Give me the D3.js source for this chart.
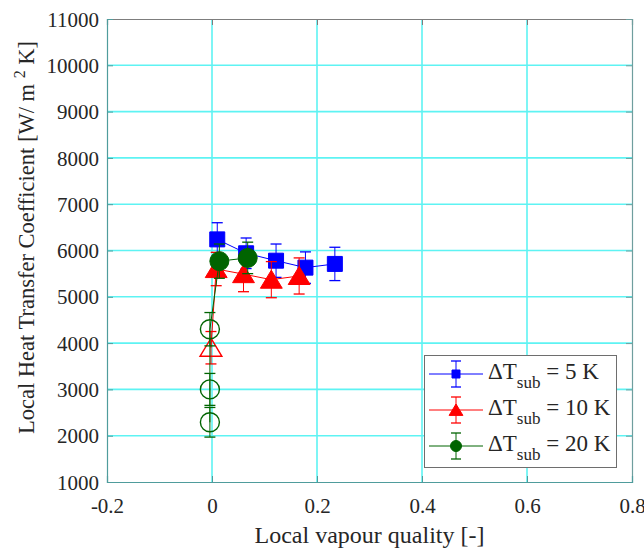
<!DOCTYPE html>
<html>
<head>
<meta charset="utf-8">
<script src="https://cdn.jsdelivr.net/npm/d3@7"></script>
<style>
  html, body { margin: 0; padding: 0; background: #fff; }
  svg { display: block; }
  svg text { font-family: "Liberation Serif", "Times New Roman", serif; }
</style>
</head>
<body>
<svg id="chart" width="644" height="549"></svg>
<script>
// Vapour quality and heat transfer coefficient for each subcooling level
const quality5 = [0.010, 0.065, 0.122, 0.178, 0.234];
const htc5 = [6240, 5940, 5780, 5630, 5710];
const err5 = [360, 330, 360, 340, 360];
const open5 = [false, false, false, false, false];

const quality10 = [-0.002, 0.008, 0.060, 0.113, 0.166];
const htc10 = [3900, 5600, 5490, 5370, 5450];
const err10 = [350, 360, 380, 390, 390];
const open10 = [true, false, false, false, false];

const quality20 = [-0.004, -0.004, -0.004, 0.014, 0.068];
const htc20 = [2290, 3000, 4300, 5770, 5840];
const err20 = [320, 345, 360, 370, 340];
const open20 = [true, true, true, false, false];

const xTicks = [-0.2, 0, 0.2, 0.4, 0.6, 0.8];
const yTicks = [1000, 2000, 3000, 4000, 5000, 6000, 7000, 8000, 9000, 10000, 11000];

const seriesNames = ["5 K", "10 K", "20 K"];
const seriesColors = ["#0000ff", "#ff0000", "#006400"];
const seriesShapes = ["square", "triangle", "circle"];

const series = [
  { x: quality5, y: htc5, e: err5, open: open5 },
  { x: quality10, y: htc10, e: err10, open: open10 },
  { x: quality20, y: htc20, e: err20, open: open20 }
].map((s, i) => ({
  name: seriesNames[i], color: seriesColors[i], shape: seriesShapes[i],
  points: s.x.map((xv, j) => ({ x: xv, y: s.y[j], e: s.e[j], open: s.open[j] }))
}));

const svg = d3.select("#chart");
const L = 107, R = 632, T = 19, B = 482;
const serif = "Liberation Serif";

const x = d3.scaleLinear().domain([-0.2, 0.8]).range([L, R]);
const y = d3.scaleLinear().domain([1000, 11000]).range([B, T]);

const gridColor = "#5ef3f3";
const axisColor = "#7d7d7d";
const textColor = "#262626";

// grid
const grid = svg.append("g");
grid.selectAll("line.gx").data(xTicks.slice(1, -1)).join("line")
  .attr("x1", d => x(d)).attr("x2", d => x(d)).attr("y1", T).attr("y2", B)
  .attr("stroke", gridColor).attr("stroke-width", 1.6);
grid.selectAll("line.gy").data(yTicks.slice(1, -1)).join("line")
  .attr("x1", L).attr("x2", R).attr("y1", d => y(d)).attr("y2", d => y(d))
  .attr("stroke", gridColor).attr("stroke-width", 1.6);

// axes with inward ticks on all four sides
const tickLen = 6;
const fmtX = d => d === 0 ? "0" : String(d);
const xAxisB = d3.axisBottom(x).tickValues(xTicks).tickSize(-tickLen).tickPadding(0).tickFormat(fmtX);
const xAxisT = d3.axisTop(x).tickValues(xTicks).tickSize(-tickLen).tickFormat("");
const yAxisL = d3.axisLeft(y).tickValues(yTicks).tickSize(-tickLen).tickPadding(8).tickFormat(d3.format("d"));
const yAxisR = d3.axisRight(y).tickValues(yTicks).tickSize(-tickLen).tickFormat("");

function styleAxis(g, color) {
  g.attr("font-family", serif).attr("font-size", 21);
  g.select(".domain").attr("stroke", color).attr("stroke-width", 1.2);
  g.selectAll(".tick line").attr("stroke", color).attr("stroke-width", 1);
  g.selectAll(".tick text").attr("fill", textColor);
}
const gt = svg.append("g").attr("transform", `translate(0,${T})`).call(xAxisT);
styleAxis(gt, axisColor);
const gr = svg.append("g").attr("transform", `translate(${R},0)`).call(yAxisR);
styleAxis(gr, "#6f9e9e");
const gb = svg.append("g").attr("transform", `translate(0,${B})`).call(xAxisB);
styleAxis(gb, "#4f9c9c");
const gl = svg.append("g").attr("transform", `translate(${L},0)`).call(yAxisL);
styleAxis(gl, "#4f9c9c");
gl.selectAll(".tick text").attr("dy", "0.34em");
gb.selectAll(".tick text").attr("y", 31).attr("dy", 0);

// axis titles
svg.append("text")
  .attr("x", (L + R) / 2).attr("y", 543)
  .attr("text-anchor", "middle").attr("fill", textColor)
  .attr("font-family", serif).attr("font-size", 24)
  .text("Local vapour quality [-]");

const yt = svg.append("text")
  .attr("transform", "translate(34,237.5) rotate(-90)")
  .attr("text-anchor", "middle").attr("fill", textColor)
  .attr("font-family", serif).attr("font-size", 22.5);
yt.append("tspan").text("Local Heat Transfer Coefficient [W/ m ");
yt.append("tspan").attr("dy", -9).attr("font-size", 16).text("2");
yt.append("tspan").attr("dy", 9).text(" K]");

// marker path generator
function markerPath(shape, s) {
  if (shape === "square") {
    const h = s / 2;
    return `M${-h},${-h}H${h}V${h}H${-h}Z`;
  }
  if (shape === "triangle") {
    const w = s * 1.15 / 2, hTop = s * 0.5, hBot = s * 0.45;
    return `M0,${-hTop}L${w},${hBot}L${-w},${hBot}Z`;
  }
  const r = s / 2;
  return `M${r},0A${r},${r} 0 1,1 ${-r},0A${r},${r} 0 1,1 ${r},0Z`;
}
const markerSize = { square: 15, triangle: 19, circle: 19 };

const plot = svg.append("g");
const line = d3.line().x(d => x(d.x)).y(d => y(d.y));
const cap = 5.5;

series.forEach(s => {
  const g = plot.append("g");
  g.append("path").datum(s.points).attr("d", line)
    .attr("fill", "none").attr("stroke", s.color).attr("stroke-width", 1);
  const eb = g.selectAll("g.eb").data(s.points).join("g");
  eb.append("line")
    .attr("x1", d => x(d.x)).attr("x2", d => x(d.x))
    .attr("y1", d => y(d.y - d.e)).attr("y2", d => y(d.y + d.e))
    .attr("stroke", s.color).attr("stroke-width", 1);
  [-1, 1].forEach(sg => {
    eb.append("line")
      .attr("x1", d => x(d.x) - cap).attr("x2", d => x(d.x) + cap)
      .attr("y1", d => y(d.y + sg * d.e)).attr("y2", d => y(d.y + sg * d.e))
      .attr("stroke", s.color).attr("stroke-width", 1.3);
  });
  g.selectAll("path.mk").data(s.points).join("path")
    .attr("transform", d => `translate(${x(d.x)},${y(d.y)})`)
    .attr("d", markerPath(s.shape, markerSize[s.shape]))
    .attr("fill", d => d.open ? "#fff" : s.color)
    .attr("fill-opacity", d => d.open ? 0 : 1)
    .attr("stroke", s.color).attr("stroke-width", d => d.open ? 1.4 : 1);
});

// legend
const lg = svg.append("g");
lg.append("rect").attr("x", 424.5).attr("y", 355.5).attr("width", 192).attr("height", 112)
  .attr("fill", "#fff").attr("stroke", "#6e6e6e").attr("stroke-width", 1);
const legendY = [374, 410, 446];
const legendMarker = { square: 8, triangle: 12, circle: 11 };
series.forEach((s, i) => {
  const cy = legendY[i];
  const g = lg.append("g");
  g.append("line").attr("x1", 429).attr("x2", 483).attr("y1", cy).attr("y2", cy)
    .attr("stroke", s.color).attr("stroke-width", 1);
  g.append("line").attr("x1", 456).attr("x2", 456).attr("y1", cy - 13).attr("y2", cy + 13)
    .attr("stroke", s.color).attr("stroke-width", 1);
  [-13, 13].forEach(o => g.append("line")
    .attr("x1", 451).attr("x2", 461).attr("y1", cy + o).attr("y2", cy + o)
    .attr("stroke", s.color).attr("stroke-width", 1.3));
  g.append("path").attr("transform", `translate(456,${cy})`)
    .attr("d", markerPath(s.shape, legendMarker[s.shape]))
    .attr("fill", s.color).attr("stroke", s.color);
  const t = g.append("text").attr("x", 488).attr("y", cy + 5)
    .attr("fill", textColor).attr("font-family", serif).attr("font-size", 23);
  t.append("tspan").text("ΔT");
  t.append("tspan").attr("dy", 9).attr("font-size", 17).text("sub");
  t.append("tspan").attr("dy", -9).text(" = " + s.name);
});
</script>
</body>
</html>
